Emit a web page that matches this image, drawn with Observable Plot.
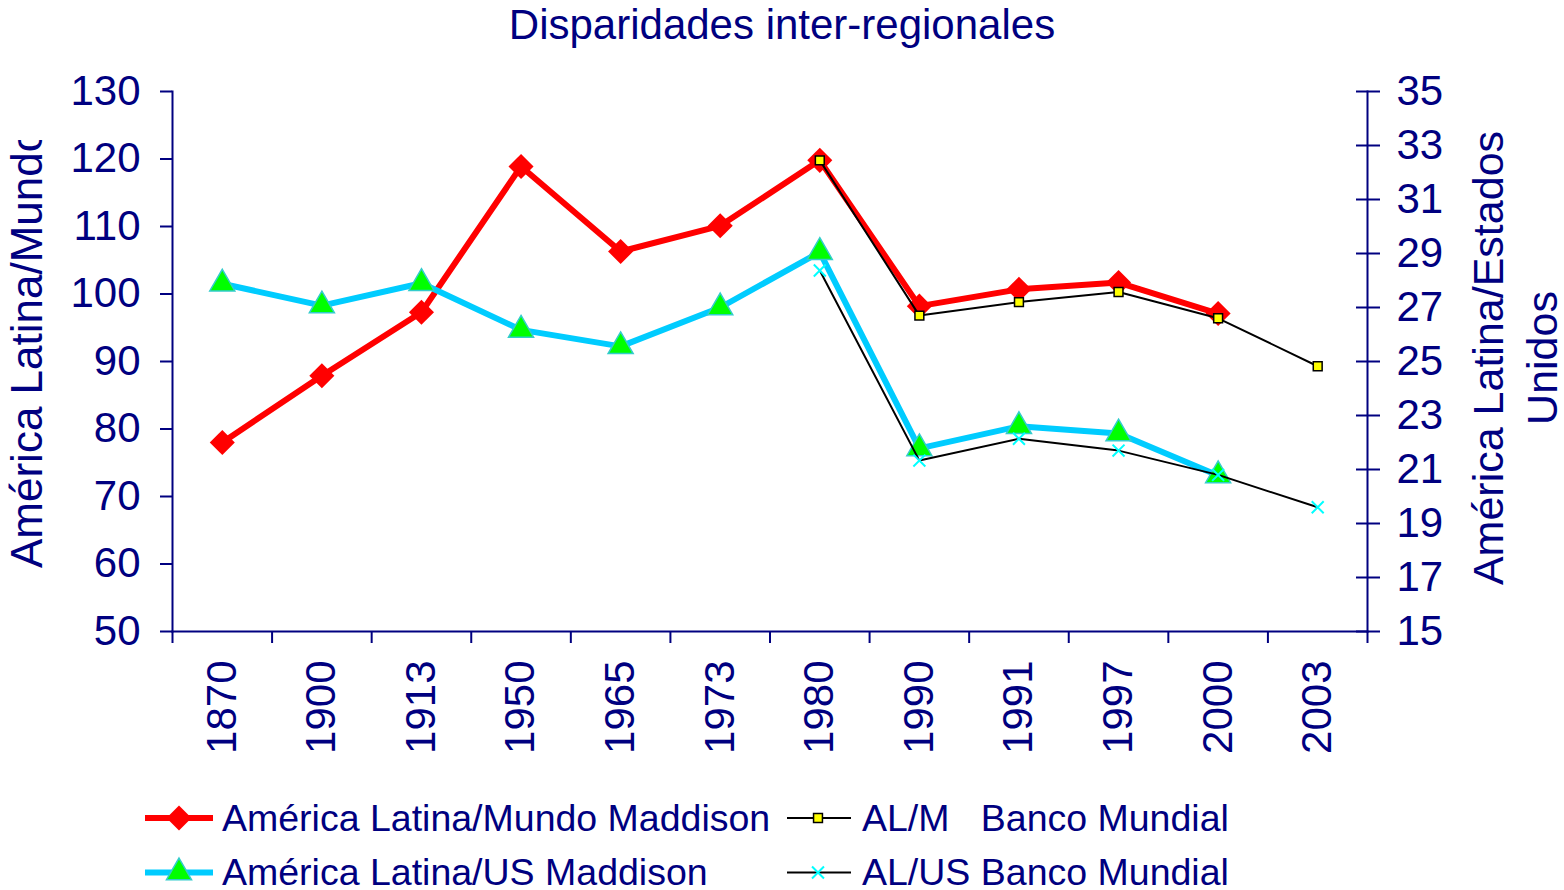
<!DOCTYPE html>
<html>
<head>
<meta charset="utf-8">
<script src="https://cdn.jsdelivr.net/npm/d3@7"></script>
<script src="https://cdn.jsdelivr.net/npm/@observablehq/plot@0.6"></script>
<style>
  html, body { margin: 0; padding: 0; background: #fff; }
  body { width: 1564px; height: 890px; position: relative; overflow: hidden; font-family: "Liberation Sans", Arial, sans-serif; color: #000080; }
  #title { position: absolute; left: 0; top: 4px; width: 1564px; text-align: center; font-size: 42px; line-height: 42px; white-space: nowrap; }
  #chart { position: absolute; left: 0; top: 0; }
  .leg { position: absolute; font-size: 37.5px; line-height: 38px; white-space: pre; }
  #legsvg { position: absolute; left: 0; top: 780px; }
</style>
</head>
<body>
<div id="title">Disparidades inter-regionales</div>
<div id="chart"></div>
<svg id="legsvg" width="1564" height="110"></svg>
<div id="legend"></div>
<script>
// ---- data ----
const years = ["1870","1900","1913","1950","1965","1973","1980","1990","1991","1997","2000","2003"];
// left axis: América Latina / Mundo
const alMundoMaddison = [78.0, 87.9, 97.3, 118.9, 106.3, 110.1, 119.8, 98.2, 100.7, 101.7, 97.1, null];
const alMundoBM       = [null, null, null, null, null, null, 119.8, 96.8, 98.8, 100.3, 96.4, 89.3];
// right axis: América Latina / Estados Unidos
const alUSMaddison    = [27.88, 27.07, 27.9, 26.17, 25.56, 27.0, 29.05, 21.78, 22.6, 22.33, 20.78, null];
const alUSBM          = [null, null, null, null, null, null, 28.37, 21.33, 22.14, 21.7, 20.8, 19.6];
const leftTicks  = [50, 60, 70, 80, 90, 100, 110, 120, 130];
const rightTicks = [15, 17, 19, 21, 23, 25, 27, 29, 31, 33, 35];
const seriesNames = ["América Latina/Mundo Maddison", "AL/M   Banco Mundial", "América Latina/US Maddison", "AL/US Banco Mundial"];

// ---- dual-axis mapping (right 15..35 onto left 50..130) ----
const toLeft = r => 50 + (r - 15) * 4;
const fromLeft = l => (l - 50) / 4 + 15;
const rows = (vals, f = d => d) => years.map((year, i) => ({year, v: vals[i] == null ? null : f(vals[i])})).filter(d => d.v != null);

const navy = "#000080";
const W = 1564, H = 760, mL = 172, mR = 197, mT = 91, mB = 129;
const step = (W - mL - mR) / years.length;

const dRed = rows(alMundoMaddison);
const dYel = rows(alMundoBM);
const dCyan = rows(alUSMaddison, toLeft);
const dX = rows(alUSBM, toLeft);

const chart = Plot.plot({
  width: W, height: H,
  marginLeft: mL, marginRight: mR, marginTop: mT, marginBottom: mB,
  style: {fontFamily: "'Liberation Sans', Arial, sans-serif", fontSize: "42px", color: navy, background: "transparent", overflow: "visible"},
  x: {type: "point", domain: years, padding: 0.5, round: false, label: null},
  y: {domain: [50, 130], label: null},
  marks: [
    Plot.frame({anchor: "left", strokeWidth: 2}),
    Plot.frame({anchor: "right", strokeWidth: 2}),
    Plot.frame({anchor: "bottom", strokeWidth: 2}),
    Plot.axisY({ticks: leftTicks, tickSize: 12, tickPadding: 20, strokeWidth: 2, label: null}),
    Plot.axisY({anchor: "right", ticks: rightTicks.map(toLeft), tickSize: 12, tickPadding: 17, strokeWidth: 2, tickFormat: d => String(Math.round(fromLeft(d))), label: null}),
    Plot.axisY({anchor: "right", ticks: rightTicks.map(toLeft), tickSize: 12, dx: -12, strokeWidth: 2, tickFormat: () => "", label: null}),
    Plot.axisX({tickSize: 12, dx: -step / 2, strokeWidth: 2, tickFormat: () => "", label: null}),
    Plot.axisX({ticks: [years[years.length - 1]], tickSize: 12, dx: step / 2, strokeWidth: 2, tickFormat: () => "", label: null}),
    Plot.axisX({tickSize: 0, tickPadding: 29, tickRotate: -90, label: null}),
    // América Latina/Mundo Maddison
    Plot.line(dRed, {x: "year", y: "v", stroke: "#FF0000", strokeWidth: 6, strokeLinejoin: "round"}),
    Plot.dot(dRed, {x: "year", y: "v", symbol: "square", rotate: 45, r: 10, fill: "#FF0000", stroke: "none"}),
    // América Latina/US Maddison
    Plot.line(dCyan, {x: "year", y: "v", stroke: "#00CCFF", strokeWidth: 6, strokeLinejoin: "round"}),
    Plot.dot(dCyan, {x: "year", y: "v", symbol: "triangle", r: 9.3, fill: "#00FF00", stroke: "#33CCCC", strokeWidth: 1.5}),
    // Banco Mundial series
    Plot.line(dYel, {x: "year", y: "v", stroke: "#000000", strokeWidth: 2}),
    Plot.line(dX, {x: "year", y: "v", stroke: "#000000", strokeWidth: 2}),
    Plot.dot(dYel, {x: "year", y: "v", symbol: "square", r: 5, fill: "#FFFF00", stroke: "#000000", strokeWidth: 1.5}),
    Plot.dot(dX, {x: "year", y: "v", symbol: "times", r: 5.5, stroke: "#00FFFF", strokeWidth: 2})
  ]
});
document.getElementById("chart").appendChild(chart);

// axis titles
const svg = d3.select(chart);
svg.append("defs").append("clipPath").attr("id", "lclip")
  .append("rect").attr("x", 0).attr("y", 140).attr("width", 120).attr("height", 600);
svg.append("g").attr("clip-path", "url(#lclip)")
  .append("text")
  .attr("transform", "translate(42,568) rotate(-90)")
  .attr("text-anchor", "start").attr("fill", navy).attr("font-size", 44)
  .text("América Latina/Mundo");
svg.append("text")
  .attr("transform", "translate(1503,358) rotate(-90)")
  .attr("text-anchor", "middle").attr("fill", navy).attr("font-size", 43)
  .text("América Latina/Estados");
svg.append("text")
  .attr("transform", "translate(1557,358) rotate(-90)")
  .attr("text-anchor", "middle").attr("fill", navy).attr("font-size", 43)
  .text("Unidos");

// legend
const leg = d3.select("#legsvg");
const r1 = 38, r2 = 92.5; // row centres inside legend svg (page y 818 / 872.5)
leg.append("line").attr("x1", 145).attr("x2", 213).attr("y1", r1).attr("y2", r1).attr("stroke", "#FF0000").attr("stroke-width", 6);
leg.append("path").attr("d", d3.symbol(d3.symbolSquare, 313)()).attr("transform", `translate(179,${r1}) rotate(45)`).attr("fill", "#FF0000");
leg.append("line").attr("x1", 145).attr("x2", 213).attr("y1", r2).attr("y2", r2).attr("stroke", "#00CCFF").attr("stroke-width", 6);
leg.append("path").attr("d", d3.symbol(d3.symbolTriangle, 272)()).attr("transform", `translate(179,${r2})`).attr("fill", "#00FF00").attr("stroke", "#33CCCC").attr("stroke-width", 1.5);
leg.append("line").attr("x1", 787).attr("x2", 851).attr("y1", r1).attr("y2", r1).attr("stroke", "#000").attr("stroke-width", 2);
leg.append("path").attr("d", d3.symbol(d3.symbolSquare, 79)()).attr("transform", `translate(818,${r1})`).attr("fill", "#FFFF00").attr("stroke", "#000").attr("stroke-width", 1.5);
leg.append("line").attr("x1", 787).attr("x2", 851).attr("y1", r2).attr("y2", r2).attr("stroke", "#000").attr("stroke-width", 2);
leg.append("path").attr("d", d3.symbol(d3.symbolTimes, 95)()).attr("transform", `translate(818,${r2})`).attr("fill", "none").attr("stroke", "#00FFFF").attr("stroke-width", 2);

const legPos = [[222, 799], [862, 799], [222, 853], [862, 853]];
const legDiv = document.getElementById("legend");
seriesNames.forEach((name, i) => {
  const s = document.createElement("div");
  s.className = "leg";
  s.style.left = legPos[i][0] + "px";
  s.style.top = legPos[i][1] + "px";
  s.textContent = name;
  legDiv.appendChild(s);
});
</script>
</body>
</html>
